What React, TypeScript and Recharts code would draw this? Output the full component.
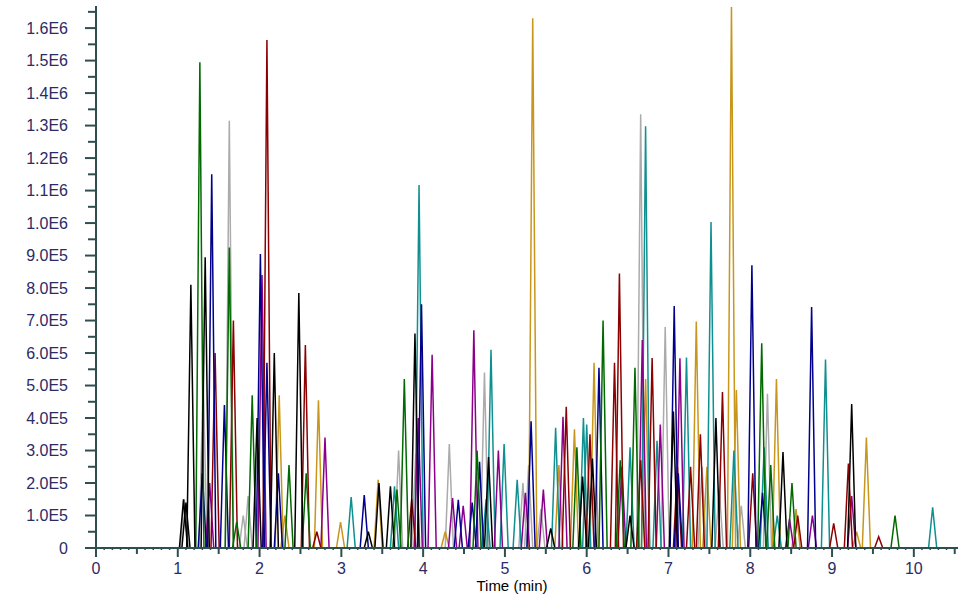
import React from "react";
import { LineChart, Line, XAxis, YAxis } from "recharts";

// peaks: [retention time (min), height (counts)]
const blackPeaks = [
  [1.07, 150000], [1.1, 140000], [1.16, 810000], [1.335, 895000], [1.97, 400000],
  [2.18, 600000], [2.48, 785000], [3.33, 50000], [3.46, 200000], [3.6, 190000],
  [3.9, 660000], [4.8, 280000], [5.56, 60000], [5.95, 220000], [6.07, 275000],
  [6.53, 100000], [7.06, 420000], [7.58, 400000], [8.4, 295000], [9.24, 443000],
];
const greenPeaks = [
  [1.27, 1495000], [1.63, 925000], [1.72, 80000], [1.91, 470000], [2.36, 255000],
  [2.57, 230000], [3.68, 180000], [3.77, 520000], [4.66, 300000], [5.88, 310000],
  [6.2, 700000], [6.41, 270000], [6.59, 555000], [8.14, 630000], [8.25, 255000],
  [8.51, 200000], [9.77, 100000],
];
const navyPeaks = [
  [1.3, 230000], [1.415, 1150000], [1.57, 440000], [2.01, 905000], [2.09, 570000],
  [2.23, 230000], [3.28, 163000], [3.98, 750000], [4.43, 148000], [4.6, 140000],
  [4.69, 265000], [5.32, 390000], [6.15, 555000], [7.07, 745000], [7.12, 230000],
  [8.02, 870000], [8.15, 170000], [8.75, 742000],
];
const grayPeaks = [
  [1.08, 150000], [1.31, 520000], [1.63, 1315000], [1.8, 100000], [1.86, 160000],
  [3.7, 300000], [3.91, 290000], [4.32, 320000], [4.75, 540000], [5.22, 200000],
  [5.29, 255000], [5.44, 120000], [6.66, 1335000], [6.96, 680000], [7.41, 250000],
  [7.62, 180000], [7.89, 130000], [8.21, 475000],
];
const redPeaks = [
  [1.456, 600000], [1.68, 700000], [2.09, 1563000], [2.56, 625000], [2.7, 50000],
  [3.86, 150000], [5.75, 435000], [6.04, 350000], [6.34, 570000], [6.4, 845000],
  [6.66, 270000], [6.8, 585000], [7.11, 250000], [7.27, 250000], [7.39, 350000],
  [7.66, 480000], [8.03, 230000], [8.58, 100000], [9.02, 76000], [9.2, 260000],
  [9.57, 35000],
];
const purplePeaks = [
  [1.39, 200000], [2.03, 840000], [2.8, 340000], [3.94, 400000], [4.11, 595000],
  [4.36, 154000], [4.49, 130000], [4.62, 670000], [4.92, 300000], [5.25, 170000],
  [5.47, 180000], [5.71, 404000], [6.43, 250000], [6.68, 640000], [6.9, 380000],
  [7.14, 584000], [8.48, 90000], [8.76, 100000], [9.24, 160000],
];
const tealPeaks = [
  [3.12, 157000], [3.65, 190000], [3.95, 1117000], [4.77, 150000], [4.83, 610000],
  [4.99, 320000], [5.15, 210000], [5.62, 370000], [5.96, 400000], [6.0, 380000],
  [6.53, 310000], [6.72, 1298000], [6.86, 330000], [7.22, 586000], [7.52, 1003000],
  [7.8, 300000], [8.17, 310000], [8.33, 100000], [8.92, 580000], [10.23, 125000],
];
const goldPeaks = [
  [2.24, 470000], [2.31, 100000], [2.72, 455000], [2.99, 80000], [3.45, 210000],
  [4.27, 50000], [5.34, 1630000], [5.66, 255000], [5.85, 365000], [6.09, 570000],
  [6.72, 520000], [7.34, 697000], [7.47, 250000], [7.77, 1665000], [7.83, 486000],
  [8.32, 520000], [8.56, 120000], [9.3, 50000], [9.42, 340000],
];

const baselineRange = [0.97, 10.6];

const traces = [
  { name: "gray", color: "#ababab", peaks: grayPeaks },
  { name: "gold", color: "#c9961c", peaks: goldPeaks },
  { name: "teal", color: "#0f9090", peaks: tealPeaks },
  { name: "purple", color: "#8b008b", peaks: purplePeaks },
  { name: "red", color: "#8b0000", peaks: redPeaks },
  { name: "navy", color: "#00008b", peaks: navyPeaks },
  { name: "green", color: "#006a00", peaks: greenPeaks },
  { name: "black", color: "#000000", peaks: blackPeaks },
];

const HALF = 0.05;
const AXIS = "#2f4f4f";
const LABEL = "#2b2b66";
const FONT = "Arial, 'Liberation Sans', sans-serif";

const xTicks = Array.from({ length: 106 }, (_, i) => i / 10);
const yTicks = Array.from({ length: 34 }, (_, i) => i * 50000);

const fmtY = (v: number) =>
  v === 0 ? "0" : v >= 1e6 ? (v / 1e6).toFixed(1) + "E6" : (v / 1e5).toFixed(1) + "E5";

const XTick = (props: any) => {
  const { x, y, payload } = props;
  const r = Math.round(payload.value * 10) / 10;
  const major = Math.abs(r - Math.round(r)) < 1e-6;
  const half = Math.abs(r * 2 - Math.round(r * 2)) < 1e-6;
  const len = major ? 9 : half ? 6 : 2;
  return (
    <g>
      <line x1={x} x2={x} y1={y} y2={y + len} stroke={AXIS} strokeWidth={major || half ? 2 : 1.5} />
      {major && (
        <text x={x} y={y + 26} textAnchor="middle" fill={LABEL} fontSize={16} fontFamily={FONT}>
          {Math.round(r)}
        </text>
      )}
    </g>
  );
};

const YTick = (props: any) => {
  const { x, y, payload } = props;
  const v = payload.value;
  const major = v % 100000 === 0;
  return (
    <g>
      <line x1={x - (major ? 11 : 8)} x2={x} y1={y} y2={y} stroke={AXIS} strokeWidth={2} />
      {major && (
        <text x={x - 28} y={y + 5.5} textAnchor="end" fill={LABEL} fontSize={16} fontFamily={FONT}>
          {fmtY(v)}
        </text>
      )}
    </g>
  );
};

const TimeLabel = (props: any) => {
  const vb = props.viewBox || { x: 96, y: 548 };
  return (
    <text x={vb.x + 416} y={vb.y + 43} textAnchor="middle" fill="#000" fontSize={15} fontFamily={FONT}>
      Time (min)
    </text>
  );
};

const peakPoints = (t: number, h: number) => [
  { t: t - HALF, v: 0 },
  { t, v: h },
  { t: t + HALF, v: 0 },
];

export default function App() {
  const baseline = [
    { t: baselineRange[0], v: 0 },
    { t: baselineRange[1], v: 0 },
  ];
  return (
    <div style={{ position: "absolute", left: 0, top: 0, width: 970, height: 600, background: "#fff" }}>
      <LineChart width={970} height={600} margin={{ top: 6, right: 12, left: 0, bottom: 0 }}>
        <XAxis
          type="number"
          dataKey="t"
          domain={[0, 10.54]}
          ticks={xTicks}
          interval={0}
          tickSize={0}
          tickMargin={0}
          tick={<XTick />}
          tickLine={false}
          axisLine={{ stroke: AXIS, strokeWidth: 2 }}
          height={52}
          allowDataOverflow
          label={<TimeLabel />}
        />
        <YAxis
          type="number"
          domain={[0, 1668000]}
          ticks={yTicks}
          interval={0}
          tickSize={0}
          tickMargin={0}
          tick={<YTick />}
          tickLine={false}
          axisLine={{ stroke: AXIS, strokeWidth: 2 }}
          width={96}
          allowDataOverflow
        />
        <Line
          data={baseline}
          dataKey="v"
          stroke="#2e8b7a"
          strokeWidth={1.5}
          dot={false}
          isAnimationActive={false}
        />
        {traces.flatMap((tr) =>
          tr.peaks.map(([t, h], i) => (
            <Line
              key={tr.name + i}
              data={peakPoints(t, h)}
              dataKey="v"
              stroke={tr.color}
              strokeWidth={1.5}
              dot={false}
              activeDot={false}
              isAnimationActive={false}
            />
          ))
        )}
      </LineChart>
    </div>
  );
}
